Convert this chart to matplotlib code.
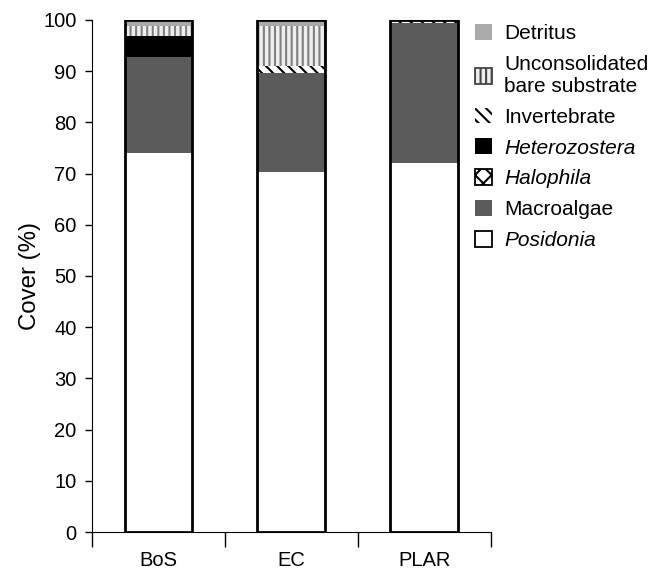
import matplotlib.pyplot as plt
from matplotlib.patches import Patch

plt.rcParams['font.family'] = ['Liberation Sans', 'DejaVu Sans']
plt.rcParams['hatch.linewidth'] = 1.5

sites = ['BoS', 'EC', 'PLAR']
# stacked from bottom to top
posidonia = [74.0, 70.3, 72.0]
macroalgae = [18.8, 19.4, 27.3]
halophila = [0.0, 0.0, 0.0]
heterozostera = [4.0, 0.0, 0.0]
invertebrate = [0.0, 1.3, 0.7]
unconsolidated = [2.0, 7.8, 0.0]
detritus = [1.2, 1.2, 0.0]

# name, values, bar style, legend edge, italic label
layers = [
    ('Posidonia', posidonia, dict(facecolor='white'), 'black', True),
    ('Macroalgae', macroalgae, dict(facecolor='#5b5b5b'), 'none', False),
    ('Halophila', halophila, dict(facecolor='white', hatch='xx', edgecolor='black'), 'black', True),
    ('Heterozostera', heterozostera, dict(facecolor='black'), 'none', True),
    ('Invertebrate', invertebrate, dict(facecolor='white', hatch='\\\\\\', edgecolor='black'), None, False),
    ('Unconsolidated\nbare substrate', unconsolidated,
     dict(facecolor='#eeeeee', hatch='|||', edgecolor='#808080'), '#444444', False),
    ('Detritus', detritus, dict(facecolor='#aaaaaa'), 'none', False),
]

fig = plt.figure(figsize=(6.57, 5.69), dpi=100)
ax = fig.add_axes([0.14, 0.065, 0.607, 0.9])

x = list(range(len(sites)))
w = 0.51
bottom = [0.0] * len(sites)
handles = []
for name, vals, style, ledge, italic in layers:
    ax.bar(x, vals, w, bottom=bottom, linewidth=0, **style)
    bottom = [b + v for b, v in zip(bottom, vals)]
    hs = dict(style)
    if ledge is None:
        hs['edgecolor'] = 'black'
        lw = 0
    else:
        hs['edgecolor'] = ledge
        lw = 1.3
    handles.append(Patch(linewidth=lw, label=name, **hs))

# outline around each whole bar
ax.bar(x, bottom, w, fill=False, edgecolor='black', linewidth=2)

ax.set_xlim(-0.5, 2.5)
ax.set_ylim(0, 100)
ax.set_yticks(range(0, 101, 10))
ax.set_xticks([-0.5, 0.5, 1.5, 2.5])
ax.set_xticklabels([])
ax.set_xticks(x, minor=True)
ax.set_xticklabels(sites, minor=True)
ax.tick_params(axis='x', which='major', length=11, width=1, direction='out')
ax.tick_params(axis='x', which='minor', length=0, pad=14, labelsize=14.5)
ax.tick_params(axis='y', length=5, width=1, pad=6, labelsize=14.5)
ax.spines['top'].set_visible(False)
ax.spines['right'].set_visible(False)
ax.spines['left'].set_bounds(0, 100)
ax.set_ylabel('Cover (%)', fontsize=17.3, labelpad=2)

leg = ax.legend(handles[::-1], [h.get_label() for h in handles[::-1]],
                loc='upper left', bbox_to_anchor=(475 / 657, 1 - 24 / 569),
                bbox_transform=fig.transFigure, frameon=False,
                fontsize=15, handlelength=0.8, handleheight=0.8,
                handletextpad=0.6, labelspacing=0.56, borderaxespad=0,
                borderpad=0)
for t, layer in zip(leg.get_texts(), layers[::-1]):
    if layer[4]:
        t.set_style('italic')

fig.savefig('out.png', dpi=100)
